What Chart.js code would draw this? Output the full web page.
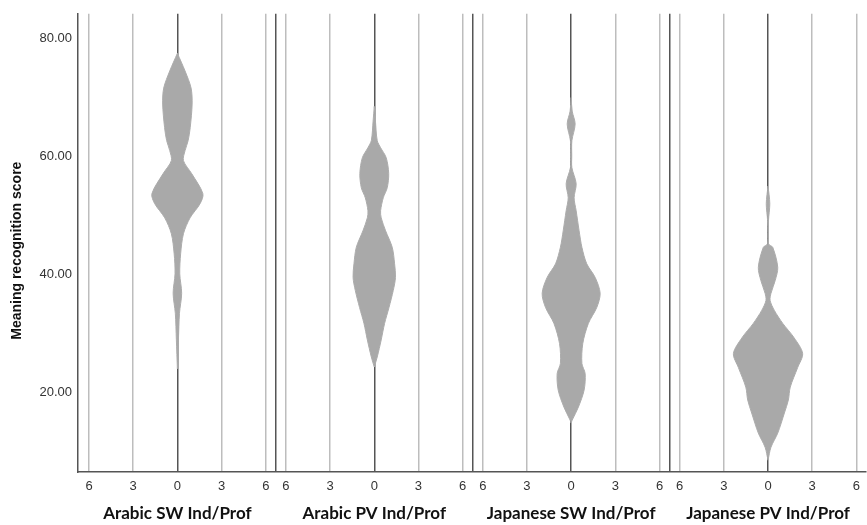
<!DOCTYPE html>
<html>
<head>
<meta charset="utf-8">
<script src="https://cdn.jsdelivr.net/npm/chart.js@4.4.1/dist/chart.umd.min.js"></script>
<style>
  html, body { margin: 0; padding: 0; background: #ffffff; }
  #wrap { width: 867px; height: 525px; position: relative; }
</style>
</head>
<body>
<div id="wrap"><canvas id="violinChart"></canvas></div>
<script>
// Groups shown side by side
const groupNames = ['Arabic SW Ind/Prof', 'Arabic PV Ind/Prof', 'Japanese SW Ind/Prof', 'Japanese PV Ind/Prof'];

// Tick labels
const yTicks = [20, 40, 60, 80];
const densityTicks = [-6, -3, 0, 3, 6];

// Violin outlines: score levels (top to bottom) and half width at each level
const arabicSwScores = [77.5, 74.5, 71.6, 68.9, 64.9, 62.7, 61.0, 59.3, 57.1, 53.7, 52.0, 49.6, 46.9, 43.5, 40.1, 36.8, 33.4, 28.9, 24.0];
const arabicSwWidths = [0, 0.52, 0.93, 1.0, 0.87, 0.73, 0.52, 0.41, 0.97, 1.73, 1.54, 0.86, 0.41, 0.22, 0.16, 0.29, 0.14, 0.07, 0];

const arabicPvScores = [68.5, 66.0, 62.7, 61.5, 59.8, 57.1, 54.7, 53.0, 50.8, 49.6, 47.4, 44.6, 41.8, 39.5, 37.3, 34.4, 31.7, 28.9, 26.0, 24.3];
const arabicPvWidths = [0, 0.08, 0.2, 0.43, 0.81, 0.98, 0.88, 0.61, 0.43, 0.47, 0.77, 1.22, 1.38, 1.44, 1.29, 1.0, 0.70, 0.47, 0.2, 0];

const japaneseSwScores = [70.0, 67.7, 65.5, 62.7, 60.1, 58.1, 55.4, 53.0, 50.8, 47.4, 44.6, 41.8, 39.5, 36.8, 34.4, 31.7, 28.3, 24.9, 23.2, 20.4, 17.5, 15.3, 14.8];
const japaneseSwWidths = [0, 0.07, 0.27, 0.05, 0.04, 0.05, 0.34, 0.2, 0.34, 0.54, 0.73, 1.06, 1.63, 1.97, 1.74, 1.17, 0.79, 0.73, 0.95, 0.88, 0.49, 0.07, 0];

const japanesePvScores = [55.0, 52.0, 49.1, 45.2, 44.6, 41.2, 39.0, 36.8, 35.6, 33.9, 31.7, 29.3, 26.6, 24.2, 20.9, 18.7, 16.5, 13.1, 10.7, 8.5];
const japanesePvWidths = [0, 0.12, 0.03, 0.03, 0.32, 0.66, 0.49, 0.2, 0.14, 0.43, 1.0, 1.76, 2.35, 2.01, 1.51, 1.38, 1.11, 0.66, 0.2, 0];

const violinScores = [arabicSwScores, arabicPvScores, japaneseSwScores, japanesePvScores];
const violinWidths = [arabicSwWidths, arabicPvWidths, japaneseSwWidths, japanesePvWidths];

// each panel is one group, mirrored count axis from -6 to 6
const panelWidth = 13.37;
const panelHalf = panelWidth / 2;
const xMin = -6.75;
const xMax = 46.74;

const axisFont = { family: '"Liberation Sans", Arial, sans-serif', size: 13 };

// build closed outline: right side going down, left side going back up
const datasets = violinScores.map(function (scores, i) {
  const center = i * panelWidth;
  const widths = violinWidths[i];
  const right = scores.map(function (s, k) { return { x: center + widths[k], y: s }; });
  const left = scores.map(function (s, k) { return { x: center - widths[k], y: s }; }).reverse();
  return {
    label: groupNames[i],
    data: right.concat(left),
    showLine: true,
    fill: 'shape',
    backgroundColor: '#a9a9a9',
    borderColor: '#acacac',
    borderWidth: 1,
    pointRadius: 0,
    tension: 0.3
  };
});

new Chart(document.getElementById('violinChart'), {
  type: 'scatter',
  data: { datasets: datasets },
  options: {
    responsive: true,
    maintainAspectRatio: false,
    animation: false,
    layout: { padding: { top: 13, right: 0, bottom: 0, left: 0 } },
    plugins: {
      legend: { display: false },
      tooltip: { enabled: false }
    },
    scales: {
      x: {
        type: 'linear',
        position: 'bottom',
        min: xMin,
        max: xMax,
        z: 1,
        afterBuildTicks: function (scale) {
          const ticks = [];
          groupNames.forEach(function (name, i) {
            const center = i * panelWidth;
            densityTicks.forEach(function (t) {
              ticks.push({ value: center + t, text: String(Math.abs(t)), kind: t === 0 ? 'center' : 'grid' });
            });
            if (i < groupNames.length - 1) {
              ticks.push({ value: center + panelHalf, text: '', kind: 'sep' });
            }
          });
          scale.ticks = ticks;
        },
        afterFit: function (scale) { scale.height = 26; },
        grid: {
          drawTicks: false,
          color: function (ctx) {
            if (!ctx.tick) return '#bdbdbd';
            return ctx.tick.kind === 'grid' ? '#bdbdbd' : '#555555';
          },
          lineWidth: 1.5
        },
        border: { color: '#555555', width: 1.5 },
        ticks: {
          autoSkip: false,
          maxRotation: 0,
          minRotation: 0,
          padding: 7,
          color: '#333333',
          font: axisFont,
          callback: function (value, index, ticks) { return ticks[index].text; }
        }
      },
      x2: {
        type: 'linear',
        position: 'bottom',
        min: xMin,
        max: xMax,
        afterBuildTicks: function (scale) {
          scale.ticks = groupNames.map(function (name, i) { return { value: i * panelWidth, text: name }; });
        },
        afterFit: function (scale) { scale.height = 27; },
        grid: { display: false, drawTicks: false },
        border: { display: false },
        ticks: {
          autoSkip: false,
          maxRotation: 0,
          minRotation: 0,
          padding: 5,
          color: '#111111',
          font: { family: 'Lato, "Open Sans", sans-serif', size: 17, weight: 'bold' },
          callback: function (value, index, ticks) { return ticks[index].text; }
        }
      },
      y: {
        type: 'linear',
        min: 6.5,
        max: 84.2,
        afterBuildTicks: function (scale) {
          scale.ticks = yTicks.map(function (v) { return { value: v }; });
        },
        afterFit: function (scale) { scale.width = 78; },
        grid: { color: 'rgba(0,0,0,0)', drawTicks: false },
        border: { color: '#555555', width: 1.5 },
        ticks: {
          padding: 6,
          color: '#333333',
          font: axisFont,
          callback: function (value) { return Number(value).toFixed(2); }
        },
        title: {
          display: true,
          // trailing spaces push the centred title a little lower, as in the original
          text: 'Meaning recognition score    ',
          color: '#111111',
          font: { family: '"Liberation Sans", Arial, sans-serif', size: 14, weight: 'bold' },
          padding: { top: 9, bottom: 0 }
        }
      }
    }
  }
});
</script>
</body>
</html>
